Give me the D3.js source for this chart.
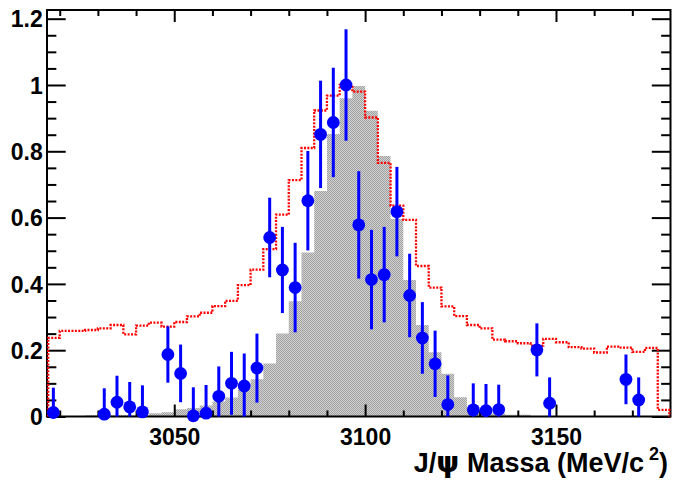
<!DOCTYPE html>
<html>
<head>
<meta charset="utf-8">
<script src="https://cdn.jsdelivr.net/npm/d3@7"></script>
<style>
  html, body { margin: 0; padding: 0; background: #fff; }
  svg { display: block; }
</style>
</head>
<body>
<svg id="chart" width="673" height="480"></svg>
<script>
// Mass window and binning (49 bins of 10/3 MeV)
const massRange = [3016.6667, 3180];
const binCount = 49;

// Measured points: bin index, normalised value, error
const pointBins   = [0, 4, 5, 6, 7, 9, 10, 11, 12, 13, 14, 15, 16, 17, 18, 19, 20, 21, 22, 23, 24, 25, 26, 27, 28, 29, 30, 31, 33, 34, 35, 38, 39, 45, 46];
const pointValues = [0.012, 0.007, 0.043, 0.029, 0.014, 0.187, 0.13, 0.002, 0.01, 0.061, 0.10, 0.092, 0.146, 0.54, 0.442, 0.389, 0.651, 0.851, 0.887, 1.0, 0.578, 0.413, 0.428, 0.618, 0.365, 0.237, 0.159, 0.036, 0.02, 0.018, 0.021, 0.201, 0.04, 0.112, 0.05];
const pointErrors = [0.075, 0.078, 0.08, 0.075, 0.08, 0.085, 0.087, 0.086, 0.085, 0.09, 0.095, 0.098, 0.104, 0.12, 0.13, 0.135, 0.15, 0.162, 0.165, 0.168, 0.162, 0.15, 0.144, 0.135, 0.126, 0.108, 0.1, 0.088, 0.08, 0.08, 0.075, 0.08, 0.078, 0.075, 0.068];

// Filled (grey) histogram, one value per bin
const histFilled = [0, 0, 0, 0.004, 0.004, 0.004, 0.004, 0.004, 0.01, 0.013,
                    0.022, 0.026, 0.033, 0.045, 0.057, 0.085, 0.112, 0.16, 0.25, 0.348,
                    0.495, 0.68, 0.852, 0.96, 0.997, 0.922, 0.786, 0.596, 0.412, 0.276,
                    0.194, 0.129, 0.058, 0.028, 0.014, 0.01, 0.005, 0.005, 0, 0,
                    0, 0, 0, 0, 0, 0, 0, 0, 0];

// Dotted (red) histogram, one value per bin
const histDotted = [0.237, 0.258, 0.258, 0.261, 0.266, 0.276, 0.248, 0.274, 0.283, 0.271,
                    0.285, 0.302, 0.313, 0.333, 0.349, 0.396, 0.443, 0.505, 0.609, 0.713,
                    0.81, 0.923, 0.968, 1.0, 0.98, 0.902, 0.765, 0.636, 0.593, 0.454,
                    0.389, 0.332, 0.303, 0.276, 0.266, 0.232, 0.227, 0.221, 0.214, 0.234,
                    0.224, 0.209, 0.205, 0.193, 0.211, 0.208, 0.195, 0.207, 0.02];

// Axis ticks
const xMajorTicks = [3050, 3100, 3150];
const xMinorTicks = [3020, 3030, 3040, 3060, 3070, 3080, 3090, 3110, 3120, 3130, 3140, 3160, 3170];
const yMajorTicks = [0, 0.2, 0.4, 0.6, 0.8, 1.0, 1.2];
const yTickLabels = ["0", "0.2", "0.4", "0.6", "0.8", "1", "1.2"];
const yMinorTicks = d3.range(0, 1.2251, 0.05).filter(v => Math.abs(v * 5 - Math.round(v * 5)) > 1e-6);

const frame = { left: 47, right: 670.5, top: 10, bottom: 416.5 };
const fontFamily = "'Liberation Sans', Arial, Helvetica, sans-serif";

const svg = d3.select("#chart");

const x = d3.scaleLinear().domain(massRange).range([frame.left, frame.right]);
const y = d3.scaleLinear().domain([0, 1.2262]).range([frame.bottom, frame.top]);

const binWidth = (massRange[1] - massRange[0]) / binCount;
const edge = i => massRange[0] + i * binWidth;
const centre = i => massRange[0] + (i + 0.5) * binWidth;

// Step outline of a histogram, starting and ending on the baseline;
// inset pulls the outer verticals off the frame line so they stay visible
function stepPoints(values, inset = 0) {
  const n = values.length;
  const xe = i => x(edge(i)) + (i === 0 ? inset : i === n ? -inset : 0);
  const pts = [[xe(0), y(0)]];
  values.forEach((v, i) => {
    pts.push([xe(i), y(v)]);
    pts.push([xe(i + 1), y(v)]);
  });
  pts.push([xe(n), y(0)]);
  return pts;
}

// Fine two-tone grey pattern for the filled histogram
const defs = svg.append("defs");
const pat = defs.append("pattern")
  .attr("id", "greyDots").attr("patternUnits", "userSpaceOnUse")
  .attr("width", 2).attr("height", 2);
pat.append("rect").attr("width", 2).attr("height", 2).attr("fill", "#d2d2d2");
pat.append("rect").attr("x", 0).attr("y", 0).attr("width", 1).attr("height", 1).attr("fill", "#a0a0a0");
pat.append("rect").attr("x", 1).attr("y", 1).attr("width", 1).attr("height", 1).attr("fill", "#a0a0a0");

const line = d3.line();

// Filled histogram
svg.append("path")
  .attr("d", line(stepPoints(histFilled)) + "Z")
  .attr("fill", "url(#greyDots)")
  .attr("stroke", "none");

// Axes: ticks point into the frame, as on a ROOT canvas
const tickStroke = g => g.selectAll(".tick line").attr("stroke", "#000").attr("stroke-width", 2);
const noDomain = g => g.select(".domain").remove();

const xLen = 12, yLen = 18.7;

svg.append("g").attr("transform", `translate(0,${frame.bottom})`)
  .call(d3.axisBottom(x).tickValues(xMinorTicks).tickSize(-xLen / 2).tickFormat(""))
  .call(noDomain).call(tickStroke);
svg.append("g").attr("transform", `translate(0,${frame.top})`)
  .call(d3.axisTop(x).tickValues(xMinorTicks).tickSize(-xLen / 2).tickFormat(""))
  .call(noDomain).call(tickStroke);
svg.append("g").attr("transform", `translate(0,${frame.top})`)
  .call(d3.axisTop(x).tickValues(xMajorTicks).tickSize(-xLen).tickFormat(""))
  .call(noDomain).call(tickStroke);

const xAxis = svg.append("g").attr("transform", `translate(0,${frame.bottom})`)
  .call(d3.axisBottom(x).tickValues(xMajorTicks).tickSize(-xLen).tickPadding(12.2).tickFormat(d3.format("d")))
  .call(noDomain).call(tickStroke);
xAxis.selectAll("text")
  .attr("font-family", fontFamily).attr("font-weight", "bold").attr("font-size", 23).attr("fill", "#000");

svg.append("g").attr("transform", `translate(${frame.left},0)`)
  .call(d3.axisLeft(y).tickValues(yMinorTicks).tickSize(-yLen / 2).tickFormat(""))
  .call(noDomain).call(tickStroke);
svg.append("g").attr("transform", `translate(${frame.right},0)`)
  .call(d3.axisRight(y).tickValues(yMinorTicks).tickSize(-yLen / 2).tickFormat(""))
  .call(noDomain).call(tickStroke);
svg.append("g").attr("transform", `translate(${frame.right},0)`)
  .call(d3.axisRight(y).tickValues(yMajorTicks).tickSize(-yLen).tickFormat(""))
  .call(noDomain).call(tickStroke);

const yAxis = svg.append("g").attr("transform", `translate(${frame.left},0)`)
  .call(d3.axisLeft(y).tickValues(yMajorTicks).tickSize(-yLen).tickPadding(4.3)
        .tickFormat((d, i) => yTickLabels[i]))
  .call(noDomain).call(tickStroke);
yAxis.selectAll("text")
  .attr("font-family", fontFamily).attr("font-weight", "bold").attr("font-size", 23)
  .attr("fill", "#000").attr("dy", "0.36em");

// Frame
svg.append("rect")
  .attr("x", frame.left).attr("y", frame.top)
  .attr("width", frame.right - frame.left).attr("height", frame.bottom - frame.top)
  .attr("fill", "none").attr("stroke", "#000").attr("stroke-width", 2);

// Dotted histogram, drawn over the frame
svg.append("path")
  .attr("d", line(stepPoints(histDotted, 1.2)))
  .attr("fill", "none")
  .attr("stroke", "#ff0000")
  .attr("stroke-width", 2.3)
  .attr("stroke-dasharray", "2,1.4");

// Data points with vertical error bars
const pts = pointBins.map((b, i) => ({ m: centre(b), v: pointValues[i], e: pointErrors[i] }));
const ptsG = svg.append("g");
ptsG.selectAll("line").data(pts).join("line")
  .attr("x1", d => x(d.m)).attr("x2", d => x(d.m))
  .attr("y1", d => y(Math.max(0, d.v - d.e))).attr("y2", d => y(d.v + d.e))
  .attr("stroke", "#0000ff").attr("stroke-width", 3);
ptsG.selectAll("circle").data(pts).join("circle")
  .attr("cx", d => x(d.m)).attr("cy", d => y(d.v)).attr("r", 6.4)
  .attr("fill", "#0000ff");

// Axis title
const title = svg.append("text")
  .attr("x", 668).attr("y", 471.5)
  .attr("text-anchor", "end")
  .attr("font-family", fontFamily).attr("font-weight", "bold").attr("font-size", 27)
  .attr("fill", "#000");
title.append("tspan").text("J/");
title.append("tspan").attr("font-family", "'DejaVu Sans', sans-serif").attr("font-size", 29).text("ψ");
title.append("tspan").text(" Massa (MeV/c");
title.append("tspan").attr("font-size", 18).attr("dx", 5).attr("dy", -12).text("2");
title.append("tspan").attr("dy", 12).text(")");
</script>
</body>
</html>
